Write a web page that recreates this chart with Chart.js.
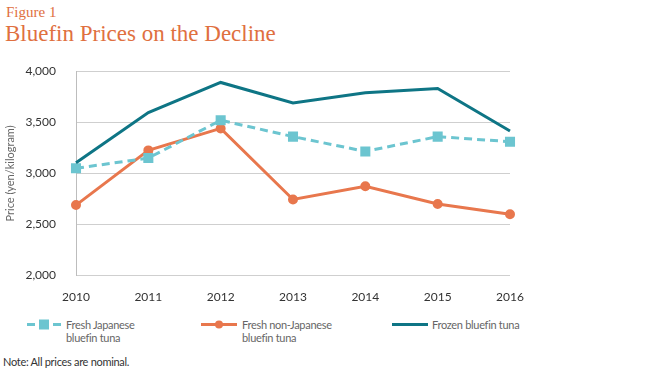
<!DOCTYPE html>
<html lang="en">
  <head>
    <meta charset="UTF-8" />
    <title>Bluefin Prices on the Decline</title>
    <script src="https://cdn.jsdelivr.net/npm/chart.js@4"></script>
    <style>
      body {
        margin: 0;
        width: 650px;
        height: 372px;
        position: relative;
        background: #fff;
        font-family: Lato, "Open Sans", sans-serif;
        overflow: hidden;
      }
      .fig {
        position: absolute;
        left: 6px;
        top: 4px;
        font-family: "Liberation Serif", serif;
        font-size: 15px;
        color: #e0703f;
      }
      .title {
        position: absolute;
        left: 5px;
        top: 21px;
        font-family: "Liberation Serif", serif;
        font-size: 23px;
        color: #e0703f;
        white-space: nowrap;
      }
      .chart-container {
        position: absolute;
        left: 0;
        top: 44px;
        width: 650px;
        height: 270px;
      }
      .legend {
        position: absolute;
        top: 318px;
        left: 0;
        width: 650px;
        font-size: 11px;
        letter-spacing: -0.3px;
        color: #666;
        line-height: 13px;
      }
      .legend .item {
        position: absolute;
        top: 0;
        display: flex;
      }
      .legend svg {
        margin-right: 5px;
      }
      .note {
        position: absolute;
        left: 3px;
        top: 355px;
        font-size: 11px;
        letter-spacing: -0.3px;
        line-height: 13px;
        color: #333;
      }
    </style>
  </head>
  <body>
    <div class="fig">Figure 1</div>
    <div class="title">Bluefin Prices on the Decline</div>
    <div class="chart-container">
      <canvas id="chart"></canvas>
    </div>
    <div class="legend">
      <div class="item" style="left: 27px">
        <svg width="34" height="13">
          <line x1="0" y1="6.5" x2="34" y2="6.5" stroke="#6cc5d0" stroke-width="3" stroke-dasharray="8,5" />
          <rect x="12" y="1.5" width="10" height="10" fill="#6cc5d0" />
        </svg>
        <span>Fresh Japanese<br />bluefin tuna</span>
      </div>
      <div class="item" style="left: 201px">
        <svg width="36" height="13">
          <line x1="0" y1="6.5" x2="36" y2="6.5" stroke="#e8774d" stroke-width="3" />
          <circle cx="18" cy="6.5" r="4" fill="#e8774d" />
        </svg>
        <span>Fresh non-Japanese<br />bluefin tuna</span>
      </div>
      <div class="item" style="left: 392px">
        <svg width="36" height="13" style="margin-right: 4px">
          <line x1="0" y1="6.5" x2="36" y2="6.5" stroke="#0e7585" stroke-width="3" />
        </svg>
        <span>Frozen bluefin tuna</span>
      </div>
    </div>
    <div class="note">Note: All prices are nominal.</div>

    <script>
      const years = ["2010", "2011", "2012", "2013", "2014", "2015", "2016"];
      const freshJapanese = [3050, 3150, 3520, 3360, 3215, 3360, 3310];
      const freshNonJapanese = [2690, 3225, 3440, 2745, 2875, 2700, 2600];
      const frozen = [3105, 3595, 3890, 3690, 3790, 3830, 3415];

      const colors = {
        light: "#6cc5d0",
        orange: "#e8774d",
        teal: "#0e7585",
      };

      const ctx = document.getElementById("chart").getContext("2d");

      new Chart(ctx, {
        type: "line",
        data: {
          labels: years,
          datasets: [
            {
              label: "Frozen bluefin tuna",
              data: frozen,
              borderColor: colors.teal,
              backgroundColor: colors.teal,
              borderWidth: 3,
              pointRadius: 0,
              tension: 0,
            },
            {
              label: "Fresh Japanese bluefin tuna",
              data: freshJapanese,
              borderColor: colors.light,
              backgroundColor: colors.light,
              borderWidth: 3,
              borderDash: [8, 5],
              pointStyle: "rect",
              pointRadius: 5,
              tension: 0,
            },
            {
              label: "Fresh non-Japanese bluefin tuna",
              data: freshNonJapanese,
              borderColor: colors.orange,
              backgroundColor: colors.orange,
              borderWidth: 3,
              pointRadius: 3.5,
              tension: 0,
            },
          ],
        },
        options: {
          responsive: true,
          maintainAspectRatio: false,
          animation: false,
          layout: {
            padding: { left: 4, right: 140, top: 12, bottom: 4 },
          },
          plugins: {
            legend: { display: false },
            tooltip: { enabled: false },
          },
          scales: {
            x: {
              offset: false,
              grid: { display: false },
              border: { display: false },
              ticks: {
                color: "#333",
                font: { family: "Lato", size: 12 },
                padding: 6,
                maxRotation: 0,
              },
            },
            y: {
              min: 2000,
              max: 4000,
              afterFit: (s) => {
                s.width = 72;
              },
              ticks: {
                stepSize: 500,
                color: "#333",
                font: { family: "Lato", size: 12 },
                padding: 20,
                callback: (v) => v.toLocaleString("en-US"),
              },
              grid: { color: "#cfcfcf", drawTicks: false },
              border: { display: true, color: "#bdbdbd" },
              title: {
                display: true,
                text: "Price (yen/kilogram)",
                color: "#666",
                font: { family: "Lato", size: 11 },
                padding: { top: 0, bottom: 6 },
              },
            },
          },
        },
      });
    </script>
  </body>
</html>
